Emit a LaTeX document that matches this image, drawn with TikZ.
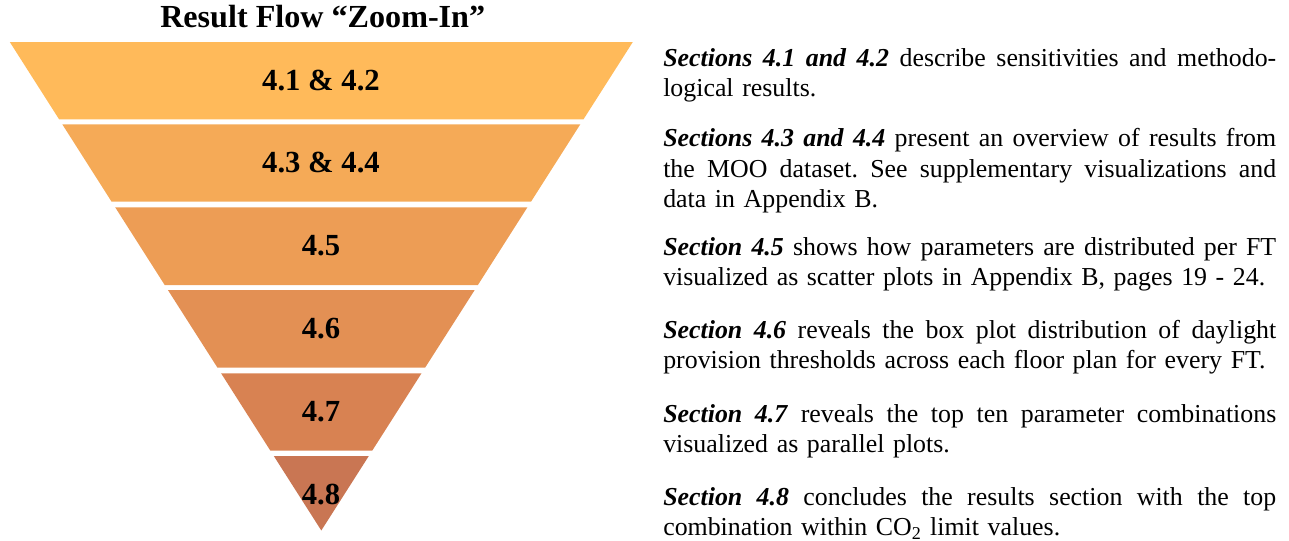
\documentclass[tikz,border=0pt]{standalone}
\usepackage{fontspec}
\setmainfont{Liberation Serif}
\definecolor{bandA}{RGB}{255,186,90}
\definecolor{bandB}{RGB}{245,170,87}
\definecolor{bandC}{RGB}{237,157,85}
\definecolor{bandD}{RGB}{227,144,84}
\definecolor{bandE}{RGB}{216,130,82}
\definecolor{bandF}{RGB}{201,118,83}
\newlength{\parW}
\setlength{\parW}{459.75pt}
\newcommand{\jline}[1]{\leavevmode\hbox to\parW{\spaceskip=.3333em plus 3em minus .05em\xspaceskip=\spaceskip #1}}
\newcommand{\sect}[1]{\textbf{\textit{#1}}}
\begin{document}
\begin{tikzpicture}[x=0.75pt,y=-0.75pt,
  bandlabel/.style={font=\fontsize{23}{28}\selectfont\bfseries,inner sep=0pt,anchor=center},
  para/.style={font=\fontsize{19.4}{22.9}\selectfont,inner sep=0pt,anchor=base west,text width=\parW,align=left},
  titletext/.style={font=\fontsize{24.1}{28}\selectfont\bfseries,inner sep=0pt,anchor=base west}]
\useasboundingbox (0,0) rectangle (1289,540);
% funnel bands
\fill[bandA] (9.8,42) -- (632.8,42) -- (583.5,119.3) -- (59.1,119.3) -- cycle;
\fill[bandB] (62.3,124.3) -- (580.3,124.3) -- (531.0,201.7) -- (111.6,201.7) -- cycle;
\fill[bandC] (115.2,207.3) -- (527.4,207.3) -- (477.9,285) -- (164.7,285) -- cycle;
\fill[bandD] (167.9,290) -- (474.7,290) -- (425.1,367.7) -- (217.5,367.7) -- cycle;
\fill[bandE] (221.1,373.3) -- (421.5,373.3) -- (372.2,450.7) -- (270.4,450.7) -- cycle;
\fill[bandF] (273.8,456) -- (368.8,456) -- (321.3,530.5) -- cycle;
% title
\node[titletext] (title) at (160,27.7) {Result Flow “Zoom-In”};
% band labels
\node[bandlabel] (l1) at (321,80.7) {4.1 \& 4.2};
\node[bandlabel] (l2) at (321,163) {4.3 \& 4.4};
\node[bandlabel] (l3) at (321,246) {4.5};
\node[bandlabel] (l4) at (321,329) {4.6};
\node[bandlabel] (l5) at (321,412) {4.7};
\node[bandlabel] (l6) at (321,495) {4.8};
% descriptions
\node[para] (p1) at (663,66) {\jline{\sect{Sections 4.1 and 4.2} describe sensitivities and methodo-}\\logical results.};
\node[para] (p2) at (663,146.5) {\jline{\sect{Sections 4.3 and 4.4} present an overview of results from}\\\jline{the MOO dataset. See supplementary visualizations and}\\data in Appendix B.};
\node[para] (p3) at (663,255) {\jline{\sect{Section 4.5} shows how parameters are distributed per FT}\\visualized as scatter plots in Appendix B, pages 19 - 24.};
\node[para] (p4) at (663,338) {\jline{\sect{Section 4.6} reveals the box plot distribution of daylight}\\provision thresholds across each floor plan for every FT.};
\node[para] (p5) at (663,422) {\jline{\sect{Section 4.7} reveals the top ten parameter combinations}\\visualized as parallel plots.};
\node[para] (p6) at (663,505) {\jline{\sect{Section 4.8} concludes the results section with the top}\\combination within CO\textsubscript{2} limit values.};
\end{tikzpicture}
\end{document}
